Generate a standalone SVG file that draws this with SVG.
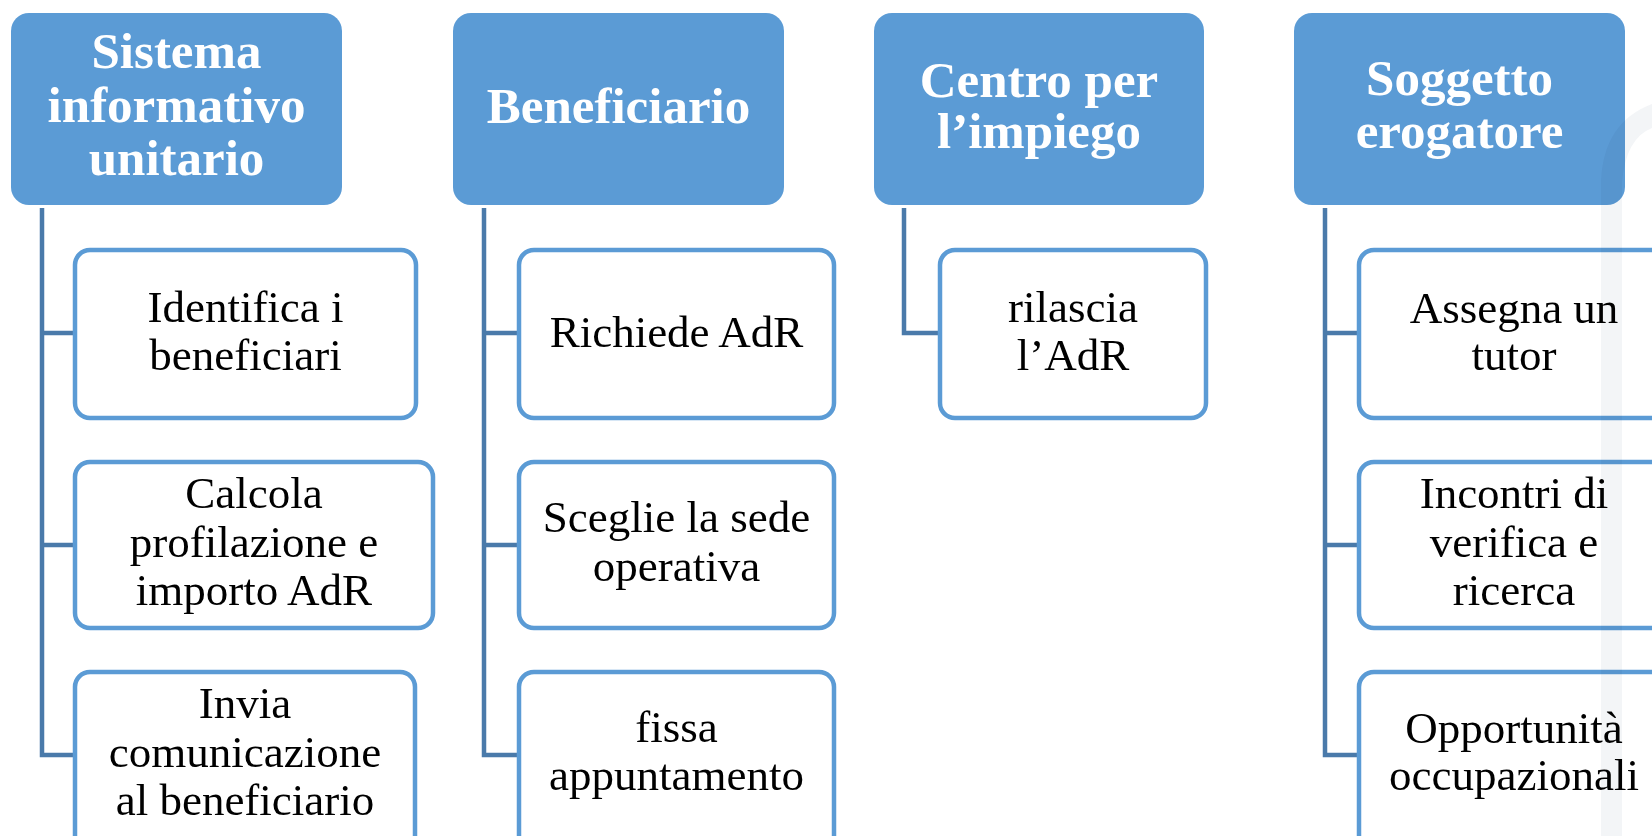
<svg xmlns="http://www.w3.org/2000/svg" width="1652" height="836" viewBox="0 0 1652 836">
<style>
.hdr{fill:#5b9bd5;}
.box{fill:#ffffff;stroke:#5b9bd5;stroke-width:4.5;}
.conn{fill:none;stroke:#4a7aaa;stroke-width:4.5;stroke-linejoin:miter;}
.ht{font-family:"Liberation Serif",serif;font-weight:bold;font-size:51px;fill:#ffffff;text-anchor:middle;}
.bt{font-family:"Liberation Serif",serif;font-size:45px;fill:#000000;text-anchor:middle;}
.wm{fill:#e4e8ed;opacity:0.45;mix-blend-mode:multiply;}
</style>
<rect x="0" y="0" width="1652" height="836" fill="#ffffff"/>
<g id="connectors">
<path class="conn" d="M42,208 V755 H75 M42,333 H75 M42,545 H75"/>
<path class="conn" d="M484,208 V755 H519 M484,333 H519 M484,545 H519"/>
<path class="conn" d="M904,208 V333 H940"/>
<path class="conn" d="M1325,208 V755 H1359 M1325,333 H1359 M1325,545 H1359"/>
</g>
<g id="col1-header">
<rect class="hdr" x="11" y="13" width="331" height="192" rx="18"/>
<text class="ht" x="176.5" y="68">Sistema</text>
<text class="ht" x="176.5" y="122">informativo</text>
<text class="ht" x="176.5" y="175">unitario</text>
</g>
<g id="col1-box1">
<rect class="box" x="75" y="250" width="341" height="168" rx="15"/>
<text class="bt" x="245.5" y="322">Identifica i</text>
<text class="bt" x="245.5" y="370">beneficiari</text>
</g>
<g id="col1-box2">
<rect class="box" x="75" y="462" width="358" height="166" rx="15"/>
<text class="bt" x="254" y="508">Calcola</text>
<text class="bt" x="254" y="557">profilazione e</text>
<text class="bt" x="254" y="605">importo AdR</text>
</g>
<g id="col1-box3">
<rect class="box" x="75" y="672" width="340" height="190" rx="15"/>
<text class="bt" x="245" y="718">Invia</text>
<text class="bt" x="245" y="767">comunicazione</text>
<text class="bt" x="245" y="815">al beneficiario</text>
</g>
<g id="col2-header">
<rect class="hdr" x="453" y="13" width="331" height="192" rx="18"/>
<text class="ht" x="618.5" y="123">Beneficiario</text>
</g>
<g id="col2-box1">
<rect class="box" x="519" y="250" width="315" height="168" rx="15"/>
<text class="bt" x="676.5" y="347">Richiede AdR</text>
</g>
<g id="col2-box2">
<rect class="box" x="519" y="462" width="315" height="166" rx="15"/>
<text class="bt" x="676.5" y="532">Sceglie la sede</text>
<text class="bt" x="676.5" y="581">operativa</text>
</g>
<g id="col2-box3">
<rect class="box" x="519" y="672" width="315" height="190" rx="15"/>
<text class="bt" x="676.5" y="742">fissa</text>
<text class="bt" x="676.5" y="790">appuntamento</text>
</g>
<g id="col3-header">
<rect class="hdr" x="874" y="13" width="330" height="192" rx="18"/>
<text class="ht" x="1039" y="97">Centro per</text>
<text class="ht" x="1039" y="148">l’impiego</text>
</g>
<g id="col3-box1">
<rect class="box" x="940" y="250" width="266" height="168" rx="15"/>
<text class="bt" x="1073" y="322">rilascia</text>
<text class="bt" x="1073" y="370">l’AdR</text>
</g>
<g id="col4-header">
<rect class="hdr" x="1294" y="13" width="331" height="192" rx="18"/>
<text class="ht" x="1459.5" y="95">Soggetto</text>
<text class="ht" x="1459.5" y="148">erogatore</text>
</g>
<g id="col4-box1">
<rect class="box" x="1359" y="250" width="320" height="168" rx="15"/>
<text class="bt" x="1514" y="323">Assegna un</text>
<text class="bt" x="1514" y="370">tutor</text>
</g>
<g id="col4-box2">
<rect class="box" x="1359" y="462" width="320" height="166" rx="15"/>
<text class="bt" x="1514" y="508">Incontri di</text>
<text class="bt" x="1514" y="557">verifica e</text>
<text class="bt" x="1514" y="605">ricerca</text>
</g>
<g id="col4-box3">
<rect class="box" x="1359" y="672" width="320" height="190" rx="15"/>
<text class="bt" x="1514" y="743">Opportunità</text>
<text class="bt" x="1514" y="790">occupazionali</text>
</g>
<path class="wm" d="M1601,836 V180 Q1604,122 1652,104 V128 Q1626,138 1622,182 V836 Z"/>
</svg>
